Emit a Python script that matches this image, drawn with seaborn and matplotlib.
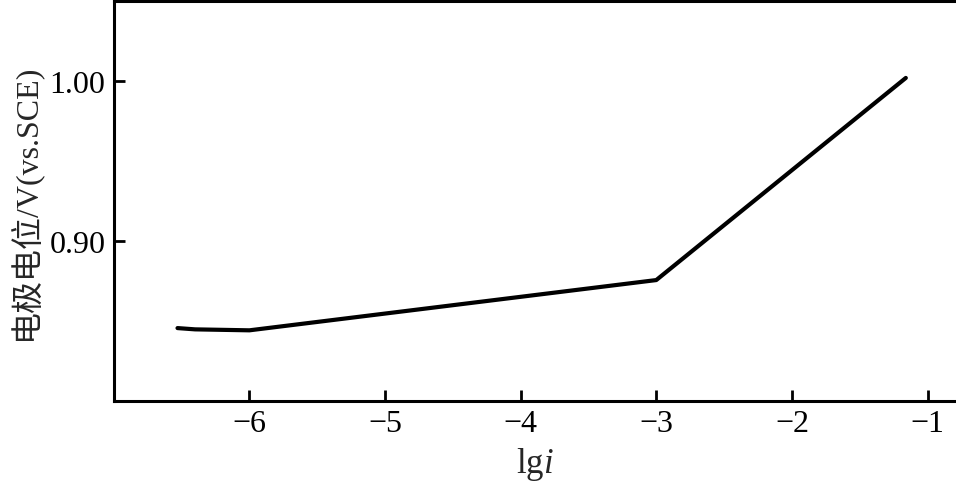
import matplotlib
matplotlib.use("Agg")
import matplotlib.pyplot as plt
import seaborn as sns
import pandas as pd

lg_i = [-6.53, -6.4, -6.0, -3.0, -1.16]
potential = [0.8456, 0.8448, 0.8442, 0.8756, 1.0019]
xticks = [-6, -5, -4, -3, -2, -1]
yticks = [0.90, 1.00]

sns.set_style("ticks")
plt.rcParams['font.family'] = ['Liberation Serif', 'Noto Sans CJK SC']
plt.rcParams['mathtext.fontset'] = 'custom'
plt.rcParams['mathtext.rm'] = 'Liberation Serif'
plt.rcParams['mathtext.it'] = 'Liberation Serif:italic'
plt.rcParams['axes.unicode_minus'] = True

df = pd.DataFrame({"lgi": lg_i, "E": potential})

fig = plt.figure(figsize=(9.56, 4.85), dpi=100)
ax = fig.add_axes([0.119, 0.171, 0.881, 0.825])
sns.lineplot(data=df, x="lgi", y="E", ax=ax, color="black", linewidth=3.0,
             sort=False, estimator=None)

ax.set_xlim(-7.0, -0.79)
ax.set_ylim(0.80, 1.05)
ax.set_xticks(xticks)
ax.set_xticklabels([f"\u2212{abs(t)}" for t in xticks])
ax.set_yticks(yticks)
ax.set_yticklabels([f"{t:.2f}" for t in yticks])
ax.tick_params(direction="in", length=8, width=2, labelsize=23, colors="black", pad=6)
for side in ["left", "bottom", "top"]:
    ax.spines[side].set_linewidth(2.2)
    ax.spines[side].set_color("black")
ax.spines["right"].set_visible(False)
ax.set_xlabel(r"$\mathrm{lg}i$", fontsize=25, labelpad=5)
ax.set_ylabel("电极电位/V(vs.SCE)", fontsize=23, labelpad=6)

fig.savefig("out.png", dpi=100)
